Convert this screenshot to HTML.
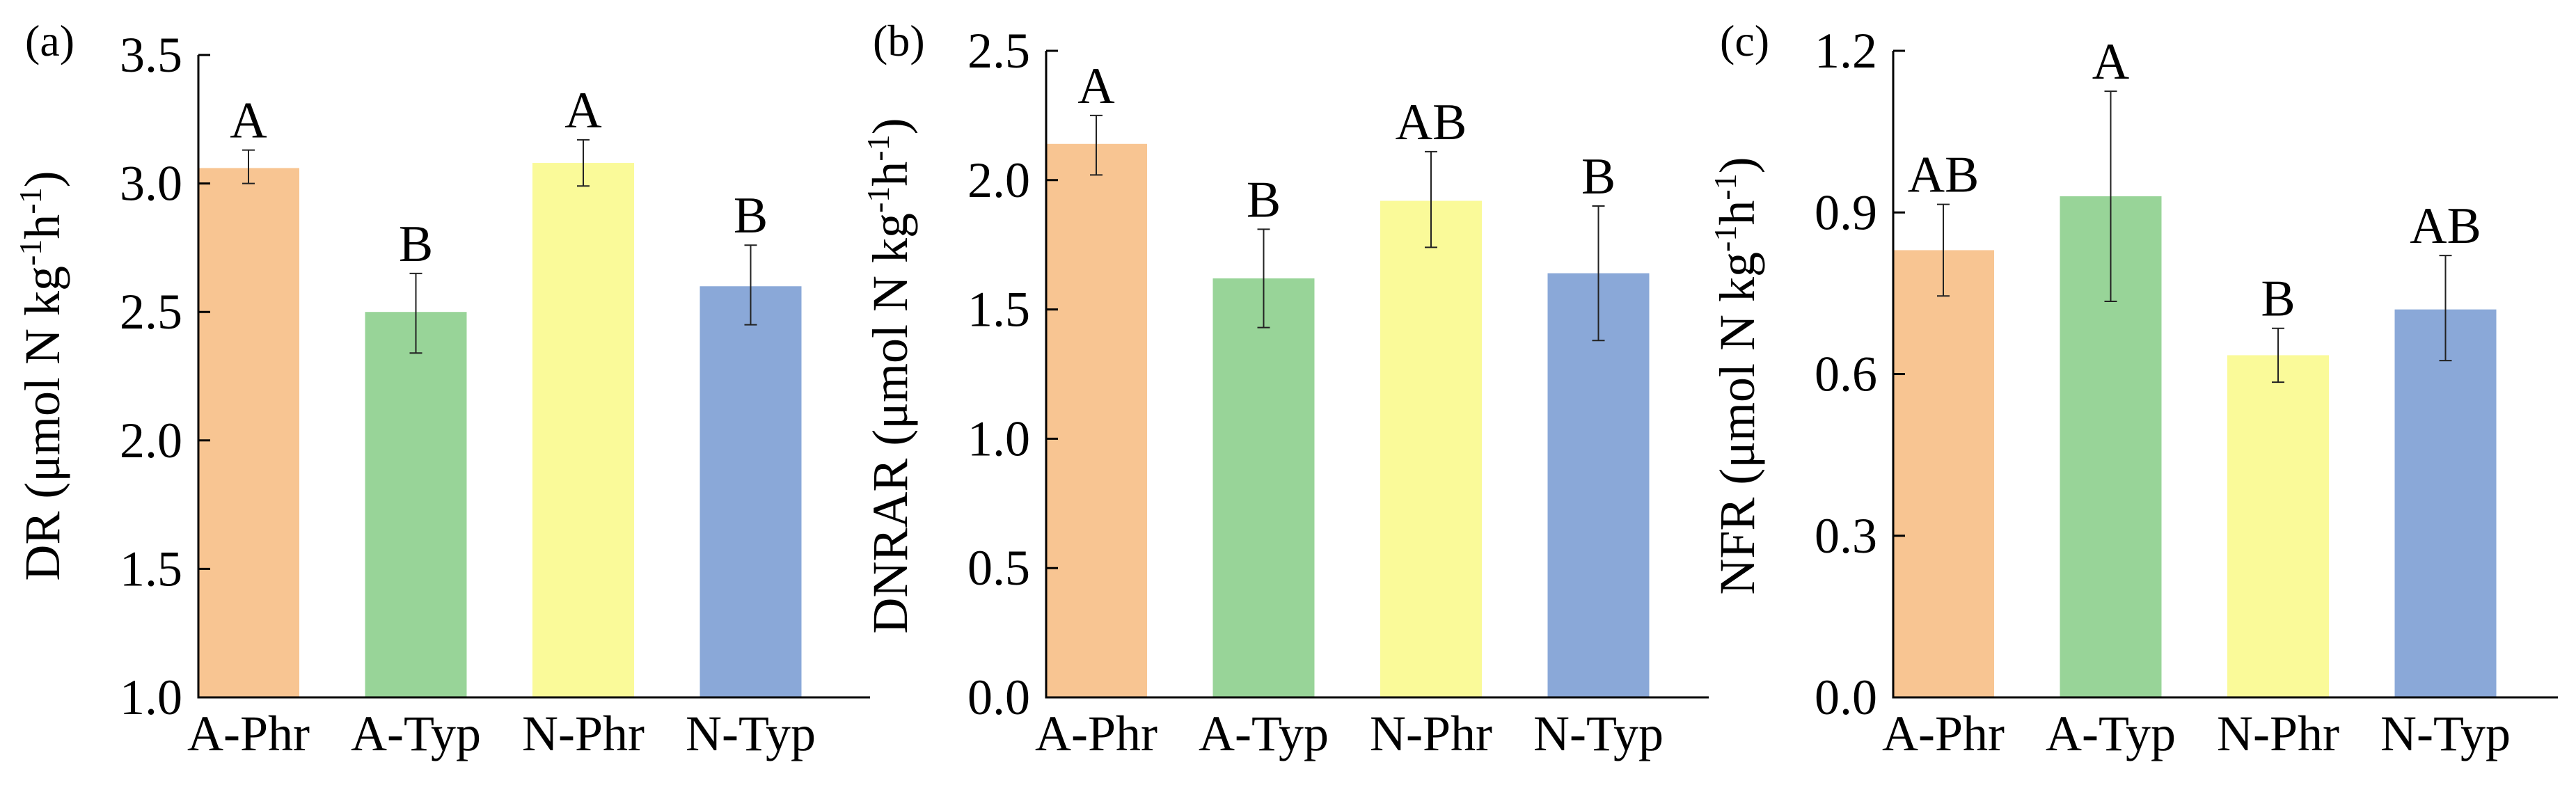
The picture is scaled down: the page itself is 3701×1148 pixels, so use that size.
<!DOCTYPE html>
<html><head><meta charset="utf-8"><style>
html,body{margin:0;padding:0;background:#fff;}
svg{display:block;font-family:"Liberation Serif","Times New Roman",serif;}
</style></head><body>
<svg id="fig" width="3701" height="1148" viewBox="0 0 3701 1148" xmlns="http://www.w3.org/2000/svg"></svg>
<script>
const categories = ["A-Phr","A-Typ","N-Phr","N-Typ"];
const colors = ["#F8C592","#98D498","#FAFA99","#8AA8D8"];
const drValues = [3.06, 2.50, 3.08, 2.60];
const drErrHi = [3.13, 2.65, 3.17, 2.76];
const drErrLo = [3.00, 2.34, 2.99, 2.45];
const drLetters = ["A","B","A","B"];
const drTicks = ["1.0","1.5","2.0","2.5","3.0","3.5"];
const dnValues = [2.14, 1.62, 1.92, 1.64];
const dnErrHi = [2.25, 1.81, 2.11, 1.90];
const dnErrLo = [2.02, 1.43, 1.74, 1.38];
const dnLetters = ["A","B","AB","B"];
const dnTicks = ["0.0","0.5","1.0","1.5","2.0","2.5"];
const nfValues = [0.83, 0.93, 0.635, 0.72];
const nfErrHi = [0.915, 1.125, 0.685, 0.82];
const nfErrLo = [0.745, 0.735, 0.585, 0.625];
const nfLetters = ["AB","A","B","AB"];
const nfTicks = ["0.0","0.3","0.6","0.9","1.2"];

const NS = "http://www.w3.org/2000/svg";
const svg = document.getElementById("fig");
function mk(tag, attrs, parent){ const e=document.createElementNS(NS,tag); for(const k in attrs) e.setAttribute(k,attrs[k]); (parent||svg).appendChild(e); return e; }

function panel(cfg){
  const g = mk("g",{});
  
  
  const ticks = cfg.ticks.map(Number);
  const ymin = ticks[0], ymax = ticks[ticks.length-1];
  const y = v => cfg.bottom - (v - ymin)/(ymax - ymin)*(cfg.bottom - cfg.top);
  const xc = i => cfg.x0 + 72 + i*240.5;
  // bars
  cfg.values.forEach((v,i)=>{
    const r = mk("rect",{x:xc(i)-73,y:y(v),width:146,height:cfg.bottom-y(v),fill:colors[i]},g);
    
    
    const eb = mk("path",{d:`M${xc(i)},${y(cfg.hi[i])}V${y(cfg.lo[i])}M${xc(i)-9},${y(cfg.hi[i])}H${xc(i)+9}M${xc(i)-9},${y(cfg.lo[i])}H${xc(i)+9}`,stroke:"#222","stroke-width":2,fill:"none"},g);
    
    
    const lt = mk("text",{x:xc(i),y:y(cfg.hi[i])-18,"font-size":74,"text-anchor":"middle",fill:"#000"},g);
    lt.textContent = cfg.letters[i];
    
    
    const cl = mk("text",{x:xc(i),y:1078,"font-size":72,"text-anchor":"middle",fill:"#000"},g);
    cl.textContent = categories[i];
    
    
  });
  // axes
  const ax = mk("path",{d:`M${cfg.x0},${cfg.top}V${cfg.bottom}H${cfg.xend}`,stroke:"#000","stroke-width":3,fill:"none"},g);
  
  
  cfg.ticks.forEach(t=>{
    const ty = y(Number(t));
    const tk = mk("line",{x1:cfg.x0,x2:cfg.x0+17,y1:ty,y2:ty,stroke:"#000","stroke-width":3},g);
    
    
    const tl = mk("text",{x:cfg.x0-23,y:ty+24,"font-size":72,"text-anchor":"end",fill:"#000"},g);
    tl.textContent = t;
    
    
  });
  const yt = mk("text",{x:0,y:0,"font-size":72,"text-anchor":"middle",fill:"#000",transform:`translate(${cfg.x0-200},540) rotate(-90)`},g);
  yt.innerHTML = cfg.title + ' (μmol N kg<tspan dy="-26" font-size="46">-1</tspan><tspan dy="26">h</tspan><tspan dy="-26" font-size="46">-1</tspan><tspan dy="26">)</tspan>';
  
  
  const pl = mk("text",{x:cfg.x0-249,y:80,"font-size":64,fill:"#000"},g);
  pl.textContent = cfg.label;
  
  
}
panel({name:"panel-a-dr",x0:285,xend:1250,top:79,bottom:1002,ticks:drTicks,values:drValues,hi:drErrHi,lo:drErrLo,letters:drLetters,title:"DR",label:"(a)"});
panel({name:"panel-b-dnrar",x0:1503,xend:2455,top:73,bottom:1002,ticks:dnTicks,values:dnValues,hi:dnErrHi,lo:dnErrLo,letters:dnLetters,title:"DNRAR",label:"(b)"});
panel({name:"panel-c-nfr",x0:2720,xend:3675,top:73,bottom:1002,ticks:nfTicks,values:nfValues,hi:nfErrHi,lo:nfErrLo,letters:nfLetters,title:"NFR",label:"(c)"});
</script>
</body></html>
